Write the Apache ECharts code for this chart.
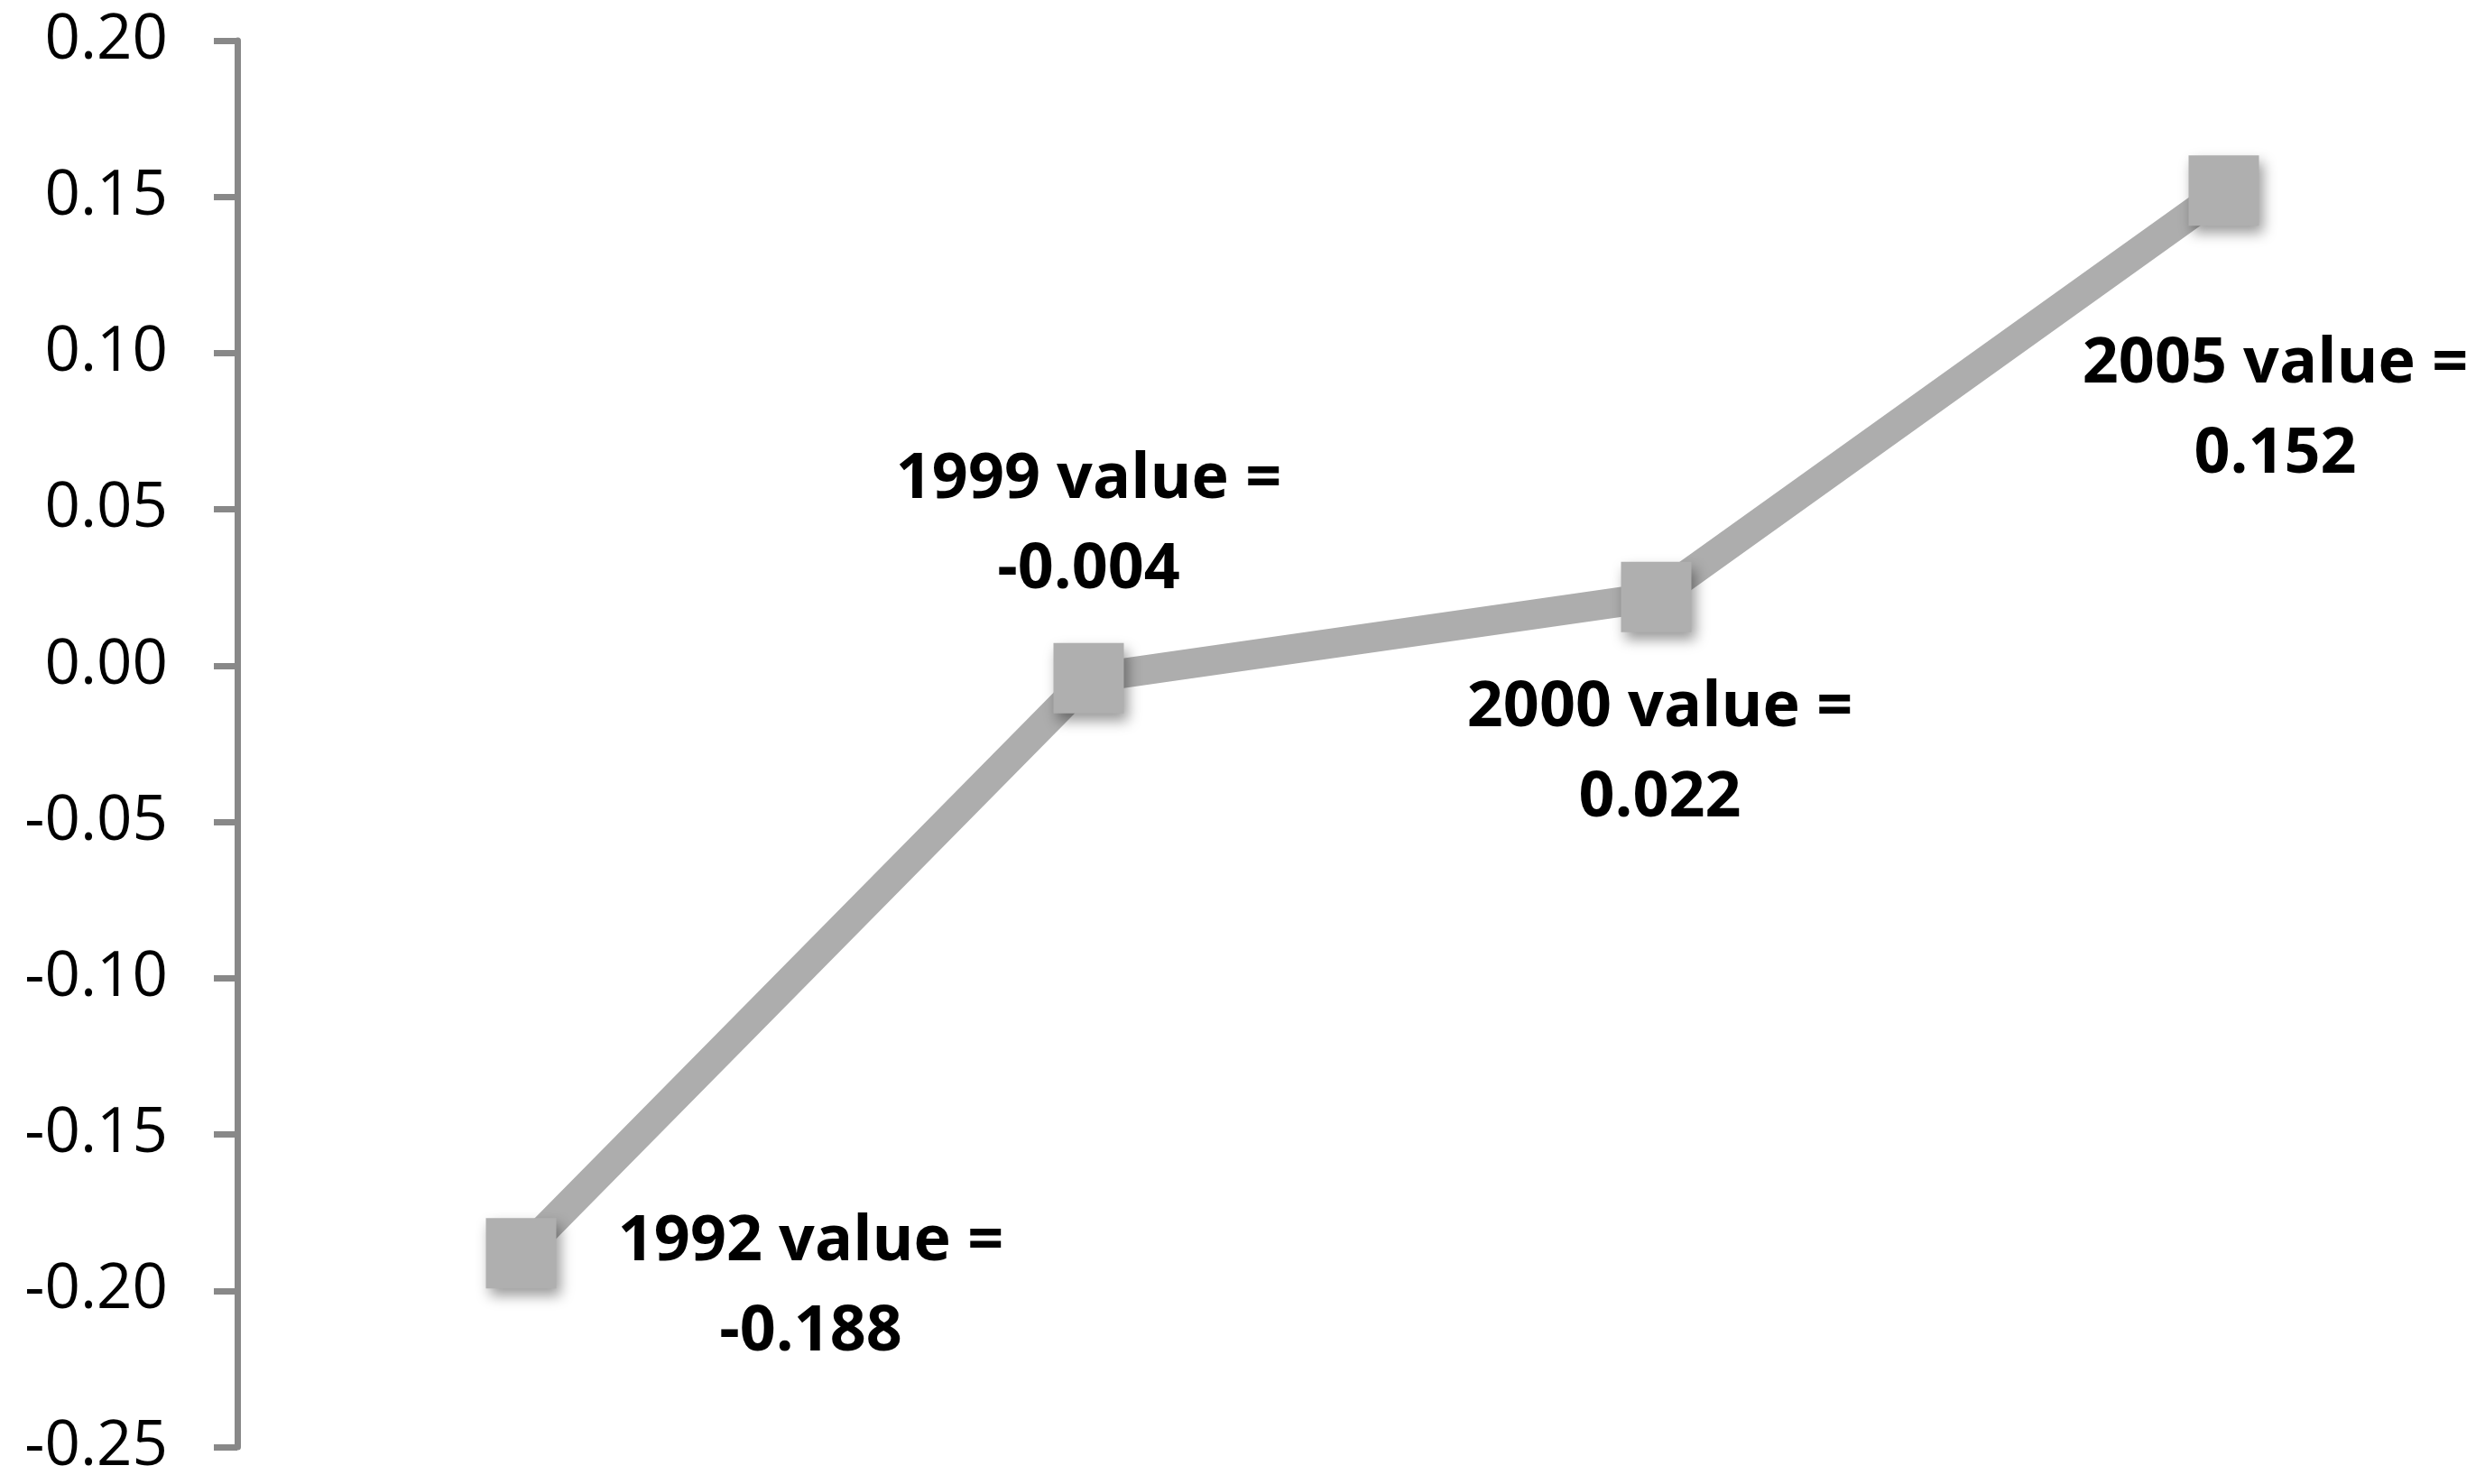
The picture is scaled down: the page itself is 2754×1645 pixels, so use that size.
<!DOCTYPE html>
<html>
<head>
<meta charset="utf-8">
<script src="https://cdn.jsdelivr.net/npm/echarts@6/dist/echarts.min.js"></script>
<style>
html,body{margin:0;padding:0;background:#fff;}
#chart{width:2754px;height:1645px;}
</style>
</head>
<body>
<div id="chart"></div>
<script>
const categories = ['1992', '1999', '2000', '2005'];
const values = [-0.188, -0.004, 0.022, 0.152];
const yTicks = [-0.25, -0.20, -0.15, -0.10, -0.05, 0.00, 0.05, 0.10, 0.15, 0.20];

const labelOffsets = [[321, 38], [0, -170], [4, 173], [57, 243]];

const chart = echarts.init(document.getElementById('chart'), null, {renderer: 'canvas'});

const data = values.map((v, i) => ({
  value: v,
  label: {
    show: true,
    position: 'inside',
    offset: labelOffsets[i],
    formatter: categories[i] + ' value =\n' + v.toFixed(3)
  }
}));

chart.setOption({
  animation: false,
  backgroundColor: '#ffffff',
  grid: {
    left: 263,
    right: -25,
    top: 45,
    bottom: 41,
    containLabel: false,
    outerBoundsMode: 'none'
  },
  xAxis: {
    type: 'category',
    data: categories,
    boundaryGap: true,
    show: false
  },
  yAxis: {
    type: 'value',
    min: yTicks[0],
    max: yTicks[yTicks.length - 1],
    interval: 0.05,
    axisLine: {show: true, lineStyle: {color: '#888888', width: 7}},
    axisTick: {show: true, length: 26, lineStyle: {color: '#888888', width: 7}},
    splitLine: {show: false},
    axisLabel: {
      margin: 77,
      color: '#000000',
      fontFamily: 'Open Sans',
      fontSize: 69,
      formatter: v => v.toFixed(2)
    }
  },
  series: [{
    type: 'line',
    data: data,
    symbol: 'rect',
    symbolSize: 78,
    lineStyle: {color: '#adadad', width: 33},
    itemStyle: {
      color: '#afafaf',
      shadowColor: 'rgba(0,0,0,0.4)',
      shadowBlur: 14,
      shadowOffsetX: 4,
      shadowOffsetY: 8
    },
    label: {
      color: '#000000',
      fontFamily: 'Open Sans',
      fontWeight: 'bold',
      fontSize: 70,
      lineHeight: 100,
      align: 'center',
      verticalAlign: 'middle'
    },
    emphasis: {disabled: true},
    z: 2
  }]
});
</script>
</body>
</html>
